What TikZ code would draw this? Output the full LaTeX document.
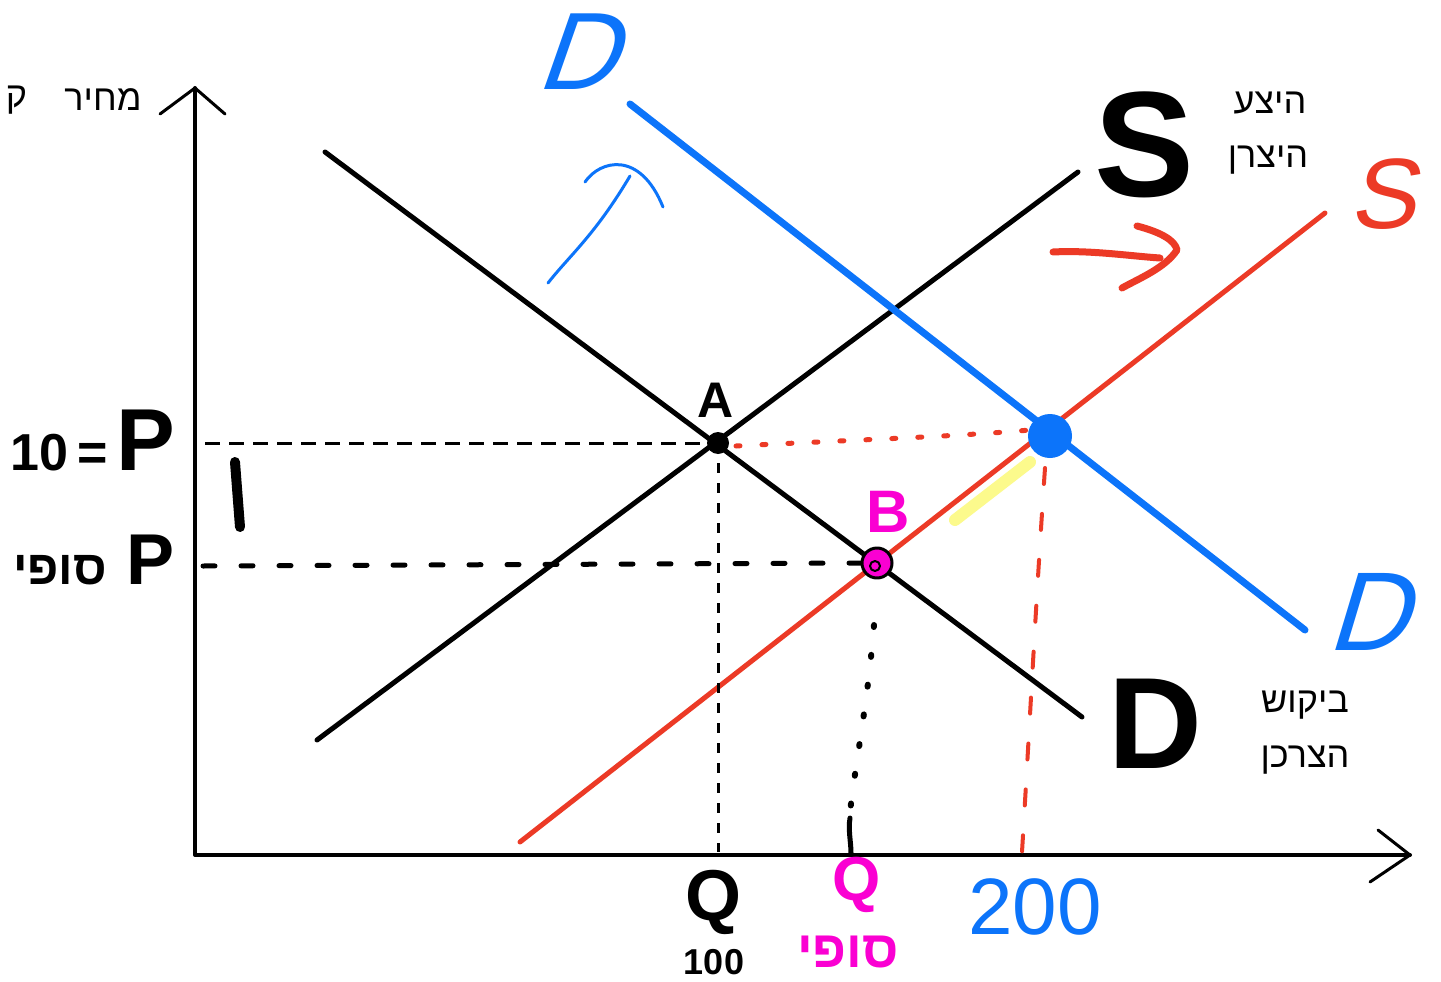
\documentclass[tikz,border=0pt]{standalone}
\usepackage{fontspec}
\setmainfont{Liberation Sans}
\newfontfamily\heb[Script=Hebrew]{Liberation Sans}
\TeXXeTstate=1
\usetikzlibrary{calc}
\definecolor{myblue}{RGB}{12,116,250}
\definecolor{myred}{RGB}{236,58,38}
\definecolor{mypink}{RGB}{250,0,210}
\definecolor{myyellow}{RGB}{252,250,140}
\tikzset{
  curve/.style={line width=5pt},
  lbl/.style={inner sep=0pt, outer sep=0pt},
  hand/.style={lbl, font=\bfseries},
}
\newcommand{\fs}[1]{\fontsize{#1}{#1}\selectfont}
\begin{document}
\begin{tikzpicture}[x=1pt,y=-1pt,line cap=round,line join=round]
\useasboundingbox (0,0) rectangle (1441,982);
\fill[white] (0,0) rectangle (1441,982);

% axes
\coordinate (O) at (195,855);
\coordinate (ytop) at (195,88);
\coordinate (xend) at (1410,855);
\draw[line width=4pt] (ytop) -- (O) -- (xend);
\draw[line width=3pt] ($(ytop)+(-35,26)$) -- (ytop) -- ($(ytop)+(30,26)$);
\draw[line width=3pt] ($(xend)+(-32,-25)$) -- (xend) -- ($(xend)+(-40,27)$);

% curve end points
\coordinate (D1) at (325,152);
\coordinate (D2) at (1082,717);
\coordinate (S1) at (317,740);
\coordinate (S2) at (1078,172);
\coordinate (R1) at (520,842);
\coordinate (R2) at (1325,213);
\coordinate (B1) at (630,104);
\coordinate (B2) at (1305,630);

% highlight
\coordinate (y1) at (955,520);
\coordinate (y2) at (1030,462);
\draw[myyellow, line width=12pt] (y1) -- (y2);

% curves
\draw[curve] (D1) -- (D2);
\draw[curve] (S1) -- (S2);
\draw[curve, myred] (R1) -- (R2);
\draw[myblue, line width=7pt] (B1) -- (B2);

% points
\coordinate (A) at (718,443);
\coordinate (B) at (877,563);
\coordinate (E) at (1050,436);

% guide lines
\coordinate (pA) at (205,443);
\coordinate (qA) at (718,852);
\draw[line width=3pt, line cap=butt, dash pattern=on 15pt off 9pt] (pA) -- (A);
\draw[line width=3pt, line cap=butt, dash pattern=on 10pt off 10pt] (A) -- (qA);
\coordinate (pB) at (203,566);
\draw[line width=5pt, dash pattern=on 12pt off 26pt] (pB) -- (862,563);
\coordinate (qB) at (851,853);
\draw[line width=6pt, dash pattern=on 2pt off 28pt] (874,625) .. controls (868,700) and (856,760) .. (850,812);
\draw[line width=5pt] (850,818) .. controls (848,830) and (851,842) .. (qB);
\draw[myred, line width=5pt, dash pattern=on 4pt off 22pt] ($(A)+(18,3)$) .. controls (850,440) and (950,437) .. ($(E)+(-20,-6)$);
\coordinate (qE) at (1022,852);
\draw[myred, line width=4pt, dash pattern=on 16pt off 30pt] (1045,468) .. controls (1036,600) and (1030,720) .. (qE);

% I mark
\draw[line width=10pt] (235,462) -- (240,527);

% dots
\fill (A) circle (11);
\fill[myblue] (E) circle (22);
\filldraw[fill=mypink, draw=black, line width=3pt] (B) circle (15);
\draw[black, line width=2pt] ($(B)+(-2,3)$) circle (5);

% shift arrows
\draw[myred, line width=7pt] (1053,252) .. controls (1090,250) and (1130,256) .. (1160,258);
\draw[myred, line width=7pt] (1137,226) .. controls (1160,232) and (1175,240) .. (1177,250) .. controls (1165,268) and (1140,278) .. (1122,288);
\draw[myblue, line width=3pt] (548,283) .. controls (570,255) and (595,235) .. (630,176);
\draw[myblue, line width=3pt] (585,182) .. controls (600,160) and (640,150) .. (663,207);

% printed labels
\node[lbl, font=\heb\fs{36}] (price) at (103,100) {\beginR מחיר\endR};
\node[lbl, font=\heb\fs{36}, anchor=east] (qty) at (27,100) {\beginR ק\endR};
\node[lbl, font=\heb\fs{36}] (sup1) at (1270,103) {\beginR היצע\endR};
\node[lbl, font=\heb\fs{36}] (sup2) at (1268,160) {\beginR היצרן\endR};
\node[lbl, font=\heb\fs{36}] (dem1) at (1305,705) {\beginR ביקוש\endR};
\node[lbl, font=\heb\fs{36}] (dem2) at (1305,760) {\beginR הצרכן\endR};

% handwritten labels
\node[hand, font=\bfseries\fs{150}] (Slbl) at (1145,145) {S};
\node[hand, font=\bfseries\fs{130}] (Dlbl) at (1155,724) {D};
\node[lbl, font=\fs{100}, myred, xslant=0.2] (Slbl2) at (1390,194) {S};
\node[lbl, font=\fs{110}, myblue, xslant=0.35] (Dtop) at (588,52) {D};
\node[lbl, font=\fs{112}, myblue, xslant=0.3] (Dright) at (1378,612) {D};
\node[hand, font=\bfseries\fs{50}] (Albl) at (716,400) {A};
\node[hand, font=\bfseries\fs{60}, mypink] (Blbl) at (888,512) {B};
\node[hand, font=\bfseries\fs{72}] (Q1) at (713,902) {Q};
\node[hand, font=\bfseries\fs{36}] (n100) at (714,962) {100};
\node[hand, font=\bfseries\fs{62}, mypink] (Q2) at (857,885) {Q};
\node[hand, font=\heb\bfseries\fs{52}, mypink] (fin2) at (848,952) {\beginR סופי\endR};
\node[hand, font=\fs{80}, myblue] (n200) at (1035,907) {200};
\node[hand, anchor=east] (P1) at (175,440) {\fs{52}\bfseries 10\,=\,\fs{88}P};
\node[hand, anchor=east] (P2) at (175,560) {{\heb\fs{48}\bfseries\beginR סופי\endR}\fs{72}\bfseries\ P};
\end{tikzpicture}
\end{document}
